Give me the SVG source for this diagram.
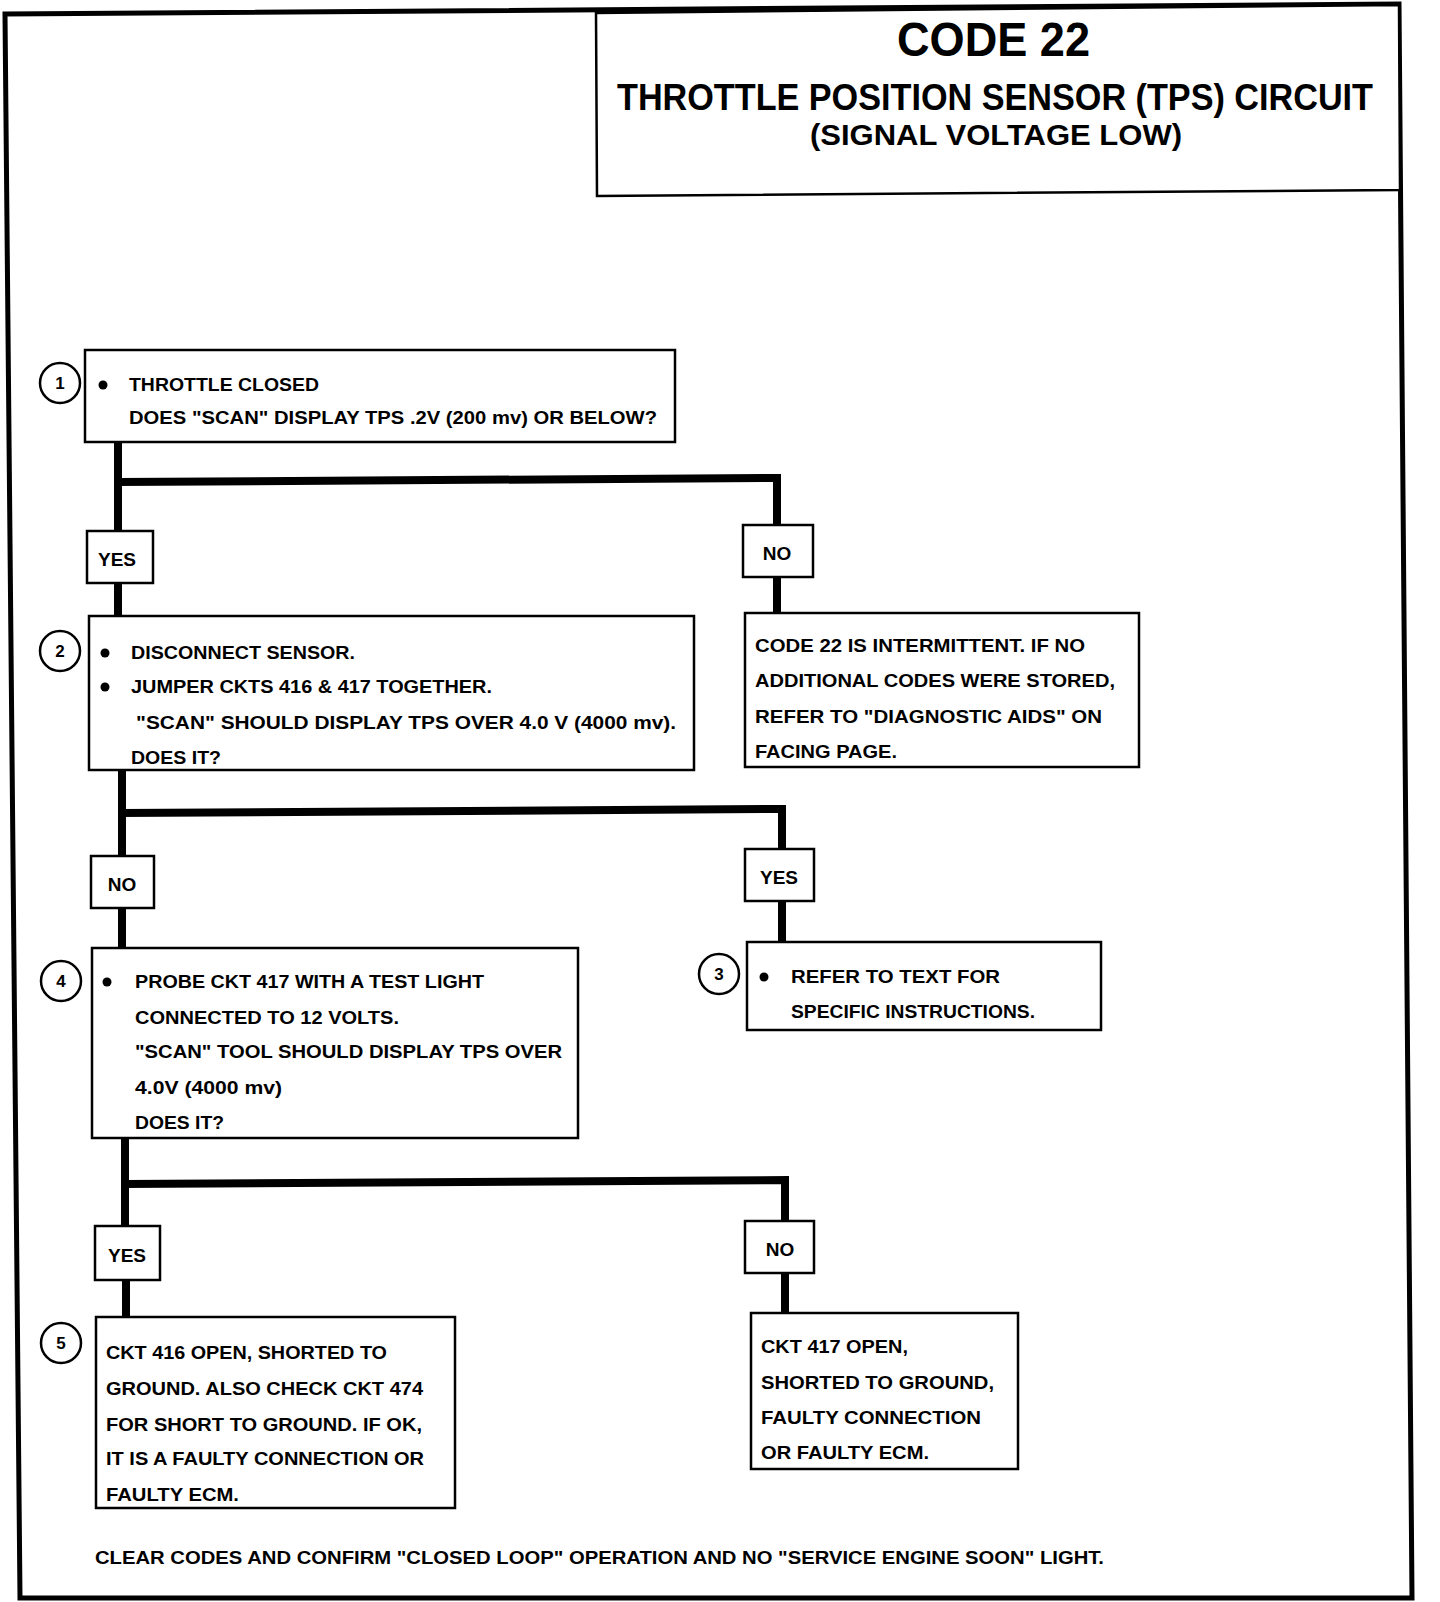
<svg xmlns="http://www.w3.org/2000/svg" width="1440" height="1602" viewBox="0 0 1440 1602">
<style>
text{font-family:"Liberation Sans","Open Sans",Arial,sans-serif;font-weight:bold;fill:#000;}
.t{font-size:19px;}
.lbl{font-size:19px;text-anchor:middle;}
.box{fill:#fff;stroke:#000;stroke-width:2.5;}
.circ{fill:#fff;stroke:#000;stroke-width:2.5;}
.num{font-size:17px;text-anchor:middle;}
.conn{fill:none;stroke:#000;stroke-width:8;stroke-linejoin:miter;}
.frame{fill:none;stroke:#000;stroke-width:5;}
</style>
<rect width="1440" height="1602" fill="#fff"/>
<polygon class="frame" points="5,14 1399,4 1412,1598 20,1598"/>

<g id="title">
<polygon points="596,13 1399,5 1400,190 597,196" fill="#fff" stroke="#000" stroke-width="2.5"/>
<text x="897" y="56" font-size="48" textLength="193" lengthAdjust="spacingAndGlyphs">CODE 22</text>
<text x="617" y="110" font-size="36" textLength="756" lengthAdjust="spacingAndGlyphs">THROTTLE POSITION SENSOR (TPS) CIRCUIT</text>
<text x="810" y="145" font-size="29" textLength="372" lengthAdjust="spacingAndGlyphs">(SIGNAL VOLTAGE LOW)</text>
</g>

<g id="connectors">
<polyline class="conn" points="118,442 118,482 777,478 777,525"/>
<line class="conn" x1="118" y1="480" x2="118" y2="531"/>
<line class="conn" x1="118" y1="583" x2="118" y2="616"/>
<line class="conn" x1="777" y1="577" x2="777" y2="613"/>
<polyline class="conn" points="122,770 122,813 782,809 782,849"/>
<line class="conn" x1="122" y1="811" x2="122" y2="856"/>
<line class="conn" x1="122" y1="908" x2="122" y2="948"/>
<line class="conn" x1="782" y1="901" x2="782" y2="942"/>
<polyline class="conn" points="125,1138 125,1184 785,1180 785,1221"/>
<line class="conn" x1="125" y1="1182" x2="125" y2="1226"/>
<line class="conn" x1="126" y1="1280" x2="126" y2="1317"/>
<line class="conn" x1="785" y1="1273" x2="785" y2="1313"/>
</g>

<g id="step1">
<rect class="box" x="85" y="350" width="590" height="92"/>
<circle class="circ" cx="60" cy="383" r="20"/>
<text class="num" x="60" y="389">1</text>
<circle cx="103" cy="385" r="4.5"/>
<text class="t" x="129" y="391" textLength="190" lengthAdjust="spacingAndGlyphs">THROTTLE CLOSED</text>
<text class="t" x="129" y="424" textLength="528" lengthAdjust="spacingAndGlyphs">DOES "SCAN" DISPLAY TPS .2V (200 mv) OR BELOW?</text>
</g>

<g id="yes1">
<rect class="box" x="87" y="531" width="66" height="52"/>
<text class="lbl" x="117" y="566">YES</text>
</g>
<g id="no1">
<rect class="box" x="743" y="525" width="70" height="52"/>
<text class="lbl" x="777" y="560">NO</text>
</g>

<g id="step2">
<rect class="box" x="89" y="616" width="605" height="154"/>
<circle class="circ" cx="60" cy="651" r="20"/>
<text class="num" x="60" y="657">2</text>
<circle cx="105" cy="653" r="4.5"/>
<text class="t" x="131" y="659" textLength="224" lengthAdjust="spacingAndGlyphs">DISCONNECT SENSOR.</text>
<circle cx="105" cy="687" r="4.5"/>
<text class="t" x="131" y="693" textLength="361" lengthAdjust="spacingAndGlyphs">JUMPER CKTS 416 &amp; 417 TOGETHER.</text>
<text class="t" x="136" y="729" textLength="540" lengthAdjust="spacingAndGlyphs">"SCAN" SHOULD DISPLAY TPS OVER   4.0 V (4000 mv).</text>
<text class="t" x="131" y="764" textLength="90" lengthAdjust="spacingAndGlyphs">DOES IT?</text>
</g>

<g id="intermittent">
<rect class="box" x="745" y="613" width="394" height="154"/>
<text class="t" x="755" y="652" textLength="330" lengthAdjust="spacingAndGlyphs">CODE 22 IS INTERMITTENT.  IF NO</text>
<text class="t" x="755" y="687" textLength="360" lengthAdjust="spacingAndGlyphs">ADDITIONAL CODES WERE STORED,</text>
<text class="t" x="755" y="723" textLength="347" lengthAdjust="spacingAndGlyphs">REFER TO  "DIAGNOSTIC AIDS" ON</text>
<text class="t" x="755" y="758" textLength="142" lengthAdjust="spacingAndGlyphs">FACING PAGE.</text>
</g>

<g id="no2">
<rect class="box" x="91" y="856" width="63" height="52"/>
<text class="lbl" x="122" y="891">NO</text>
</g>
<g id="yes2">
<rect class="box" x="745" y="849" width="69" height="52"/>
<text class="lbl" x="779" y="884">YES</text>
</g>

<g id="step3">
<rect class="box" x="747" y="942" width="354" height="88"/>
<circle class="circ" cx="719" cy="974" r="20"/>
<text class="num" x="719" y="980">3</text>
<circle cx="764" cy="977" r="4.5"/>
<text class="t" x="791" y="983" textLength="209" lengthAdjust="spacingAndGlyphs">REFER TO  TEXT FOR</text>
<text class="t" x="791" y="1018" textLength="244" lengthAdjust="spacingAndGlyphs">SPECIFIC INSTRUCTIONS.</text>
</g>

<g id="step4">
<rect class="box" x="92" y="948" width="486" height="190"/>
<circle class="circ" cx="61" cy="981" r="20"/>
<text class="num" x="61" y="987">4</text>
<circle cx="107" cy="982" r="4.5"/>
<text class="t" x="135" y="988" textLength="349" lengthAdjust="spacingAndGlyphs">PROBE CKT 417 WITH A TEST LIGHT</text>
<text class="t" x="135" y="1024" textLength="264" lengthAdjust="spacingAndGlyphs">CONNECTED TO 12 VOLTS.</text>
<text class="t" x="135" y="1058" textLength="427" lengthAdjust="spacingAndGlyphs">"SCAN" TOOL SHOULD DISPLAY TPS OVER</text>
<text class="t" x="135" y="1094" textLength="147" lengthAdjust="spacingAndGlyphs">4.0V (4000 mv)</text>
<text class="t" x="135" y="1129" textLength="89" lengthAdjust="spacingAndGlyphs">DOES IT?</text>
</g>

<g id="yes3">
<rect class="box" x="95" y="1226" width="65" height="54"/>
<text class="lbl" x="127" y="1262">YES</text>
</g>
<g id="no3">
<rect class="box" x="745" y="1221" width="69" height="52"/>
<text class="lbl" x="780" y="1256">NO</text>
</g>

<g id="step5">
<rect class="box" x="96" y="1317" width="359" height="191"/>
<circle class="circ" cx="61" cy="1343" r="20"/>
<text class="num" x="61" y="1349">5</text>
<text class="t" x="106" y="1359" textLength="281" lengthAdjust="spacingAndGlyphs">CKT 416 OPEN, SHORTED TO</text>
<text class="t" x="106" y="1395" textLength="317" lengthAdjust="spacingAndGlyphs">GROUND.  ALSO CHECK CKT 474</text>
<text class="t" x="106" y="1431" textLength="316" lengthAdjust="spacingAndGlyphs">FOR SHORT TO GROUND.  IF OK,</text>
<text class="t" x="106" y="1465" textLength="318" lengthAdjust="spacingAndGlyphs">IT IS A FAULTY CONNECTION OR</text>
<text class="t" x="106" y="1501" textLength="133" lengthAdjust="spacingAndGlyphs">FAULTY ECM.</text>
</g>

<g id="ckt417">
<rect class="box" x="751" y="1313" width="267" height="156"/>
<text class="t" x="761" y="1353" textLength="147" lengthAdjust="spacingAndGlyphs">CKT 417 OPEN,</text>
<text class="t" x="761" y="1389" textLength="233" lengthAdjust="spacingAndGlyphs">SHORTED TO GROUND,</text>
<text class="t" x="761" y="1424" textLength="220" lengthAdjust="spacingAndGlyphs">FAULTY CONNECTION</text>
<text class="t" x="761" y="1459" textLength="168" lengthAdjust="spacingAndGlyphs">OR FAULTY ECM.</text>
</g>

<g id="footer">
<text class="t" x="95" y="1564" textLength="1009" lengthAdjust="spacingAndGlyphs">CLEAR CODES AND CONFIRM "CLOSED LOOP"  OPERATION AND NO "SERVICE ENGINE SOON" LIGHT.</text>
</g>
</svg>
